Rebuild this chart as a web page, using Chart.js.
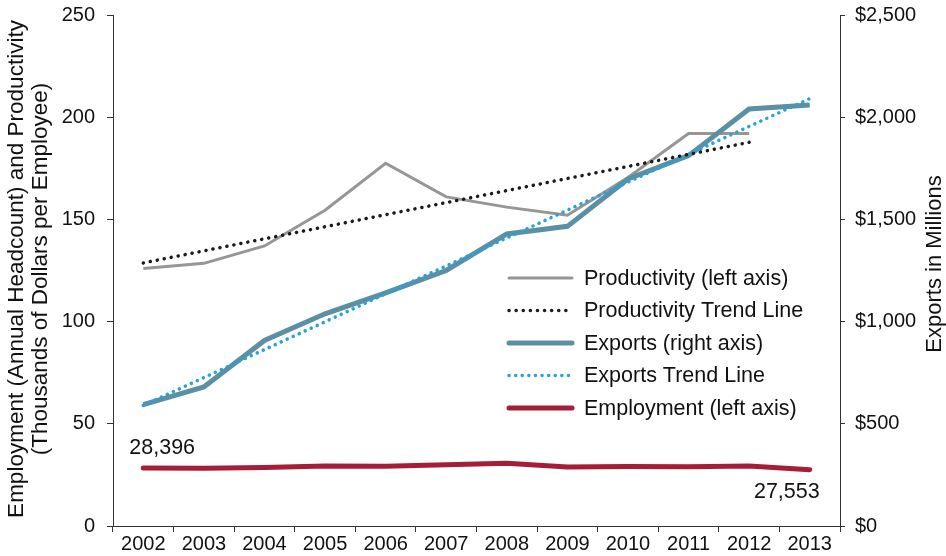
<!DOCTYPE html>
<html>
<head>
<meta charset="utf-8">
<script src="https://cdn.jsdelivr.net/npm/chart.js@4.4.1/dist/chart.umd.min.js"></script>
<style>
html, body { margin: 0; padding: 0; background: #fff; }
</style>
</head>
<body>
<canvas id="GraficoExportacoes" width="946" height="556"></canvas>
<script>
var anos = ["2002", "2003", "2004", "2005", "2006", "2007", "2008", "2009", "2010", "2011", "2012", "2013"];

// eixo esquerdo (milhares de dolares por empregado)
var produtividade = [126, 128.5, 137, 154.5, 177.5, 161, 156, 152, 170.5, 192, 192, null];
var tendenciaProdutividade = [128.7, 134.6, 140.5, 146.4, 152.3, 158.2, 164.1, 170.0, 175.9, 181.8, 187.7, null];

// eixo direito (milhoes de dolares)
var exportacoes = [594, 680, 908, 1038, 1141, 1250, 1429, 1466, 1698, 1812, 2040, 2060];
var tendenciaExportacoes = [590, 726, 863, 999, 1136, 1272, 1409, 1545, 1682, 1818, 1955, 2091];

// emprego (milhares de pessoas)
var emprego = [28.396, 28.3, 28.6, 29.3, 29.2, 30.0, 30.7, 28.9, 29.1, 29.0, 29.4, 27.553];
var rotulosEmprego = ["28,396", "27,553"];

var ticksEsquerda = [0, 50, 100, 150, 200, 250];
var ticksDireita = [0, 500, 1000, 1500, 2000, 2500];

var fonte = "'Liberation Sans', Arial, sans-serif";

var legendaDentro = {
    id: 'legendaDentro',
    afterDraw: function (chart) {
        var ctx = chart.ctx;
        ctx.save();
        ctx.font = "21.5px " + fonte;
        ctx.textBaseline = 'middle';
        chart.data.datasets.forEach(function (ds, n) {
            var y = 278 + n * 32.5;
            ctx.beginPath();
            ctx.strokeStyle = ds.borderColor;
            ctx.lineWidth = ds.borderWidth;
            ctx.lineCap = 'round';
            ctx.setLineDash(ds.borderDash || []);
            ctx.moveTo(509, y);
            ctx.lineTo(572, y);
            ctx.stroke();
            ctx.setLineDash([]);
            ctx.fillStyle = '#111';
            ctx.fillText(ds.label, 584, y + 1);
        });
        ctx.restore();
    }
};

var textosExtras = {
    id: 'textosExtras',
    afterDraw: function (chart) {
        var ctx = chart.ctx;
        var meta = chart.getDatasetMeta(4);
        var primeiro = meta.data[0];
        var ultimo = meta.data[meta.data.length - 1];
        ctx.save();
        ctx.font = "21.5px " + fonte;
        ctx.fillStyle = '#111';
        ctx.textBaseline = 'middle';
        ctx.textAlign = 'left';
        ctx.fillText(rotulosEmprego[0], primeiro.x - 14, primeiro.y - 20);
        ctx.textAlign = 'right';
        ctx.fillText(rotulosEmprego[1], ultimo.x + 10, ultimo.y + 22);
        ctx.restore();

        // titulos dos eixos
        ctx.save();
        ctx.font = "22.5px " + fonte;
        ctx.fillStyle = '#111';
        ctx.textAlign = 'center';
        ctx.textBaseline = 'middle';
        ctx.translate(17, 269);
        ctx.rotate(-Math.PI / 2);
        ctx.fillText("Employment (Annual Headcount) and Productivity", 0, 0);
        ctx.fillText("(Thousands of Dollars per Employee)", 0, 24);
        ctx.restore();

        ctx.save();
        ctx.font = "22px " + fonte;
        ctx.fillStyle = '#111';
        ctx.textAlign = 'center';
        ctx.textBaseline = 'middle';
        ctx.translate(935, 264);
        ctx.rotate(-Math.PI / 2);
        ctx.fillText("Exports in Millions", 0, 0);
        ctx.restore();
    }
};

function ajustaVertical(largura) {
    return function (s) {
        s.width = largura;
        s.paddingTop = 0;
        s.paddingBottom = 0;
    };
}

new Chart(document.getElementById("GraficoExportacoes"), {

    type: 'line',

    data: {
        labels: anos,

        datasets: [{
            label: "Productivity (left axis)",
            data: produtividade,
            yAxisID: 'y',
            borderColor: "#969696",
            borderWidth: 3,
            order: 4
        }, {
            label: "Productivity Trend Line",
            data: tendenciaProdutividade,
            yAxisID: 'y',
            borderColor: "#1a1a1a",
            borderWidth: 3.5,
            borderDash: [0.1, 7],
            borderCapStyle: 'round',
            order: 1
        }, {
            label: "Exports (right axis)",
            data: exportacoes,
            yAxisID: 'y1',
            borderColor: "#5b8fa3",
            borderWidth: 5,
            order: 3
        }, {
            label: "Exports Trend Line",
            data: tendenciaExportacoes,
            yAxisID: 'y1',
            borderColor: "#2aa0dc",
            borderWidth: 3.5,
            borderDash: [0.1, 6.5],
            borderCapStyle: 'round',
            order: 2
        }, {
            label: "Employment (left axis)",
            data: emprego,
            yAxisID: 'y',
            borderColor: "#a51d36",
            borderWidth: 5,
            borderCapStyle: 'round',
            order: 5
        }]
    },

    options: {
        responsive: false,
        animation: false,
        layout: { padding: { top: 15, left: 0, right: 0, bottom: 0 } },
        elements: {
            point: { radius: 0 },
            line: { tension: 0, borderJoinStyle: 'miter', fill: false }
        },
        plugins: {
            legend: { display: false },
            tooltip: { enabled: false }
        },
        scales: {
            x: {
                offset: true,
                grid: { offset: true, drawOnChartArea: false, tickLength: 6, color: '#333' },
                border: { color: '#333' },
                ticks: { color: '#111', font: { family: fonte, size: 20 }, padding: 0, maxRotation: 0 },
                afterFit: function (s) { s.height = 30; }
            },
            y: {
                position: 'left',
                min: 0,
                max: 250,
                afterBuildTicks: function (s) { s.ticks = ticksEsquerda.map(function (v) { return { value: v }; }); },
                grid: { drawOnChartArea: false, tickLength: 6, color: '#333' },
                border: { color: '#333' },
                ticks: { color: '#111', font: { family: fonte, size: 20 }, padding: 12 },
                afterFit: ajustaVertical(113)
            },
            y1: {
                position: 'right',
                min: 0,
                max: 2500,
                afterBuildTicks: function (s) { s.ticks = ticksDireita.map(function (v) { return { value: v }; }); },
                grid: { drawOnChartArea: false, tickLength: 5, color: '#333' },
                border: { color: '#333' },
                ticks: {
                    color: '#111',
                    font: { family: fonte, size: 20 },
                    padding: 10,
                    callback: function (v) { return '$' + Number(v).toLocaleString('en-US'); }
                },
                afterFit: ajustaVertical(106)
            }
        }
    },

    plugins: [legendaDentro, textosExtras]
});
</script>
</body>
</html>
